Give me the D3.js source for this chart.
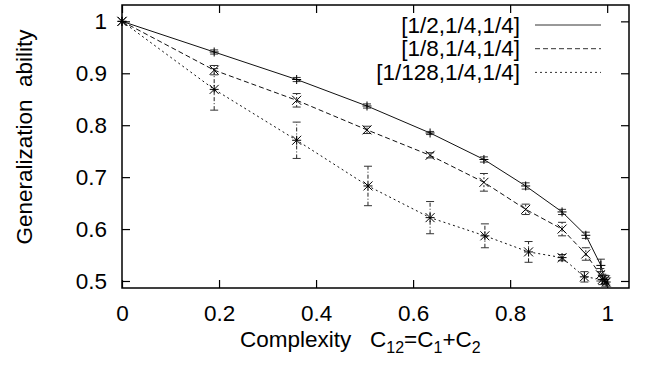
<!DOCTYPE html>
<html>
<head>
<meta charset="utf-8">
<script src="https://cdn.jsdelivr.net/npm/d3@7"></script>
<style>
  body { margin: 0; background: #fff; }
  text { font-family: "Liberation Sans", Arial, sans-serif; fill: #000; }
</style>
</head>
<body>
<div id="chart"></div>
<script>
// values
const seriesNames = ["[1/2,1/4,1/4]", "[1/8,1/4,1/4]", "[1/128,1/4,1/4]"];

const x1 = [0, 0.19, 0.36, 0.505, 0.635, 0.746, 0.832, 0.907, 0.956, 0.987, 0.995];
const y1 = [1, 0.941, 0.888, 0.837, 0.785, 0.734, 0.683, 0.633, 0.588, 0.53, 0.503];
const e1 = [0, 0.004, 0.004, 0.004, 0.003, 0.005, 0.006, 0.005, 0.006, 0.012, 0.008];

const x2 = [0, 0.19, 0.36, 0.505, 0.635, 0.746, 0.832, 0.907, 0.956, 0.986, 0.996];
const y2 = [1, 0.906, 0.848, 0.791, 0.742, 0.690, 0.638, 0.600, 0.552, 0.512, 0.502];
const e2 = [0, 0.009, 0.013, 0.007, 0.005, 0.017, 0.010, 0.013, 0.012, 0.012, 0.008];

const x3 = [0, 0.19, 0.36, 0.507, 0.635, 0.748, 0.838, 0.907, 0.953, 0.99, 0.998];
const y3 = [1, 0.869, 0.771, 0.683, 0.622, 0.587, 0.556, 0.545, 0.508, 0.503, 0.498];
const e3 = [0, 0.04, 0.035, 0.038, 0.031, 0.023, 0.02, 0.006, 0.01, 0.01, 0.008];

const xTicks = [0, 0.2, 0.4, 0.6, 0.8, 1];
const xTickLabels = ["0", "0.2", "0.4", "0.6", "0.8", "1"];
const yTicks = [0.5, 0.6, 0.7, 0.8, 0.9, 1];
const yTickLabels = ["0.5", "0.6", "0.7", "0.8", "0.9", "1"];

const W = 647, H = 367;
const pLeft = 122, pRight = 629, pTop = 5, pBottom = 288;
const fs = "22.5px";

const x = d3.scaleLinear().domain([0, 1.045]).range([pLeft, pRight]);
const y = d3.scaleLinear().domain([0.4865, 1.0315]).range([pBottom, pTop]);

const svg = d3.select("#chart").append("svg")
    .attr("width", W).attr("height", H);

const series = [
  {xs: x1, ys: y1, es: e1, dash: null, mark: "plus"},
  {xs: x2, ys: y2, es: e2, dash: "5,3", mark: "cross"},
  {xs: x3, ys: y3, es: e3, dash: "2,3", mark: "star"}
];
const errDash = [null, "2,2", "4,2,1,2"];

// axes, ticks pointing inward, mirrored on top/right
const fmtX = d => xTickLabels[xTicks.indexOf(d)];
const fmtY = d => yTickLabels[yTicks.indexOf(d)];

svg.append("g").attr("transform", `translate(0,${pBottom})`)
  .call(d3.axisBottom(x).tickValues(xTicks).tickFormat(fmtX).tickSize(-8).tickPadding(17));
svg.append("g").attr("transform", `translate(0,${pTop})`)
  .call(d3.axisTop(x).tickValues(xTicks).tickFormat("").tickSize(-8));
svg.append("g").attr("transform", `translate(${pLeft},0)`)
  .call(d3.axisLeft(y).tickValues(yTicks).tickFormat(fmtY).tickSize(-8).tickPadding(15));
svg.append("g").attr("transform", `translate(${pRight},0)`)
  .call(d3.axisRight(y).tickValues(yTicks).tickFormat("").tickSize(-8));

svg.selectAll(".domain").remove();
svg.selectAll(".tick line").attr("stroke", "#000").attr("stroke-width", 1.2);
svg.selectAll(".tick text").style("font-size", fs)
  .style("font-family", "'Liberation Sans', Arial, sans-serif");

svg.append("rect")
  .attr("x", pLeft).attr("y", pTop)
  .attr("width", pRight - pLeft).attr("height", pBottom - pTop)
  .attr("fill", "none").attr("stroke", "#000").attr("stroke-width", 1.5);

const line = d3.line().x(d => x(d[0])).y(d => y(d[1]));

series.forEach((s, i) => {
  const pts = s.xs.map((v, k) => [v, s.ys[k], s.es[k]]);
  const g = svg.append("g");

  g.append("path").datum(pts)
    .attr("d", line)
    .attr("fill", "none").attr("stroke", "#111").attr("stroke-width", 1)
    .attr("stroke-dasharray", s.dash);

  // error bars
  const eb = g.selectAll(".eb").data(pts.filter(p => p[2] > 0)).enter().append("g");
  eb.append("line")
    .attr("x1", p => x(p[0])).attr("x2", p => x(p[0]))
    .attr("y1", p => y(p[1] - p[2])).attr("y2", p => y(p[1] + p[2]))
    .attr("stroke", "#222").attr("stroke-dasharray", errDash[i]);
  [-1, 1].forEach(sg => {
    eb.append("line")
      .attr("x1", p => x(p[0]) - 4).attr("x2", p => x(p[0]) + 4)
      .attr("y1", p => y(p[1] + sg * p[2])).attr("y2", p => y(p[1] + sg * p[2]))
      .attr("stroke", "#333");
  });

  // point markers
  const r = 4.5;
  const mk = g.selectAll(".mk").data(pts).enter().append("g")
    .attr("transform", p => `translate(${x(p[0])},${y(p[1])})`)
    .attr("stroke", "#000").attr("stroke-width", 1);
  if (s.mark !== "cross") {
    mk.append("line").attr("x1", -r).attr("x2", r).attr("y1", 0).attr("y2", 0);
    mk.append("line").attr("x1", 0).attr("x2", 0).attr("y1", -r).attr("y2", r);
  }
  if (s.mark !== "plus") {
    mk.append("line").attr("x1", -r).attr("x2", r).attr("y1", -r).attr("y2", r);
    mk.append("line").attr("x1", -r).attr("x2", r).attr("y1", r).attr("y2", -r);
  }
});

// legend
const lg = svg.append("g");
seriesNames.forEach((name, i) => {
  const yy = 25 + i * 23.7;
  lg.append("text").attr("x", 520).attr("y", yy + 7.5)
    .attr("text-anchor", "end").style("font-size", fs).text(name);
  lg.append("line").attr("x1", 535).attr("x2", 601).attr("y1", yy).attr("y2", yy)
    .attr("stroke", "#333").attr("stroke-width", 1)
    .attr("stroke-dasharray", series[i].dash);
});

// axis titles
svg.append("text")
  .attr("transform", "translate(32,137) rotate(-90)")
  .attr("text-anchor", "middle").style("font-size", fs)
  .text("Generalization\u00a0\u00a0ability");

const xt = svg.append("text").attr("x", 240).attr("y", 347).style("font-size", fs);
xt.append("tspan").text("Complexity\u00a0\u00a0\u00a0C");
xt.append("tspan").attr("dy", 6).style("font-size", "16px").text("12");
xt.append("tspan").attr("dy", -6).text("=C");
xt.append("tspan").attr("dy", 6).style("font-size", "16px").text("1");
xt.append("tspan").attr("dy", -6).text("+C");
xt.append("tspan").attr("dy", 6).style("font-size", "16px").text("2");
</script>
</body>
</html>
